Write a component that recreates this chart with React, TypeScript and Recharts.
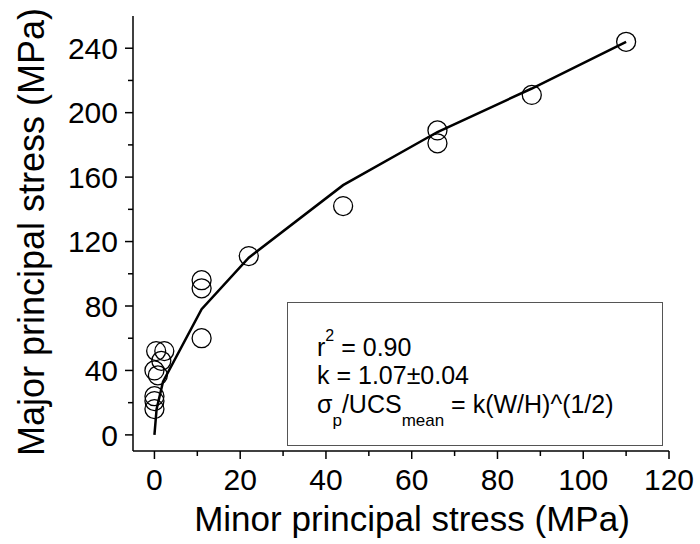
import { ComposedChart, Line, Scatter, XAxis, YAxis } from "recharts";

// Measured points: minor vs. major principal stress (MPa)
const minorStress = [110, 88, 66, 66, 44, 22, 11, 11, 11, 2.3, 0.4, 1.6, 0, 0.8, 0, 0, 0];
const majorStress = [244, 211, 189, 181, 142, 111, 96, 91, 60, 52, 52, 46, 40, 37, 24, 21, 16];

// Fitted strength envelope
const fitMinor = [0, 0.5, 2, 11, 22, 44, 66, 88, 110];
const fitMajor = [0, 16, 33, 78, 110, 155, 188, 215, 244];

const xTicks = [0, 10, 20, 30, 40, 50, 60, 70, 80, 90, 100, 110, 120];
const yTicks = [0, 20, 40, 60, 80, 100, 120, 140, 160, 180, 200, 220, 240];

const FONT = '"Liberation Sans", Arial, sans-serif';

const points = minorStress.map((x, i) => ({ x, y: majorStress[i] }));
const fit = fitMinor.map((x, i) => ({ x, y: fitMajor[i] }));

function XTick({ x, y, payload }: any) {
  const major = payload.value % 20 === 0;
  return (
    <g>
      <line x1={x} x2={x} y1={y} y2={y + (major ? 8 : 5)} stroke="#000" strokeWidth={1.5} />
      {major && (
        <text x={x} y={y + 39} textAnchor="middle" fontSize={30} fontFamily={FONT} fill="#000">
          {payload.value}
        </text>
      )}
    </g>
  );
}

function YTick({ x, y, payload }: any) {
  const major = payload.value % 40 === 0;
  return (
    <g>
      <line x1={x} x2={x - (major ? 8 : 5)} y1={y} y2={y} stroke="#000" strokeWidth={1.5} />
      {major && (
        <text x={x - 15} y={y} dy="0.36em" textAnchor="end" fontSize={30} fontFamily={FONT} fill="#000">
          {payload.value}
        </text>
      )}
    </g>
  );
}

function Ring({ cx, cy }: any) {
  return <circle cx={cx} cy={cy} r={9.5} fill="none" stroke="#000" strokeWidth={1.3} />;
}

export default function App() {
  return (
    <div style={{ position: "absolute", left: 0, top: 0, width: 700, height: 544, background: "#fff" }}>
      <ComposedChart width={700} height={544} margin={{ top: 16, right: 31, bottom: 0, left: 0 }}>
        <XAxis
          type="number"
          dataKey="x"
          domain={[-5, 120]}
          ticks={xTicks}
          interval={0}
          height={93}
          tickSize={0}
          tickMargin={0}
          tick={<XTick />}
          axisLine={{ stroke: "#000", strokeWidth: 1.5 }}
          allowDataOverflow
        />
        <YAxis
          type="number"
          dataKey="y"
          domain={[-10, 260]}
          ticks={yTicks}
          interval={0}
          width={133}
          tickSize={0}
          tickMargin={0}
          tick={<YTick />}
          axisLine={{ stroke: "#000", strokeWidth: 1.5 }}
          allowDataOverflow
        />
        <Line
          data={fit}
          dataKey="y"
          type="linear"
          stroke="#000"
          strokeWidth={2.5}
          dot={false}
          isAnimationActive={false}
        />
        <Scatter data={points} dataKey="y" shape={<Ring />} isAnimationActive={false} />
      </ComposedChart>
      <svg
        width={700}
        height={544}
        style={{ position: "absolute", left: 0, top: 0, pointerEvents: "none" }}
        fontFamily={FONT}
        fill="#000"
      >
        <text transform="translate(44,232) rotate(-90)" textAnchor="middle" fontSize={36}>
          Major principal stress (MPa)
        </text>
        <text x={412} y={531} textAnchor="middle" fontSize={35}>
          Minor principal stress (MPa)
        </text>
        <rect x={287.5} y={302.5} width={375} height={143} fill="#fff" stroke="#555" strokeWidth={1} />
        <text x={317} y={356} fontSize={25}>
          r<tspan dy={-15} fontSize={16}>2</tspan>
          <tspan dy={15}> = 0.90</tspan>
        </text>
        <text x={317} y={384} fontSize={25}>
          k = 1.07±0.04
        </text>
        <text x={317} y={413} fontSize={25}>
          σ<tspan dy={13} fontSize={17}>p</tspan>
          <tspan dy={-13}>/UCS</tspan>
          <tspan dy={13} fontSize={17}>mean</tspan>
          <tspan dy={-13}> = k(W/H)^(1/2)</tspan>
        </text>
      </svg>
    </div>
  );
}
